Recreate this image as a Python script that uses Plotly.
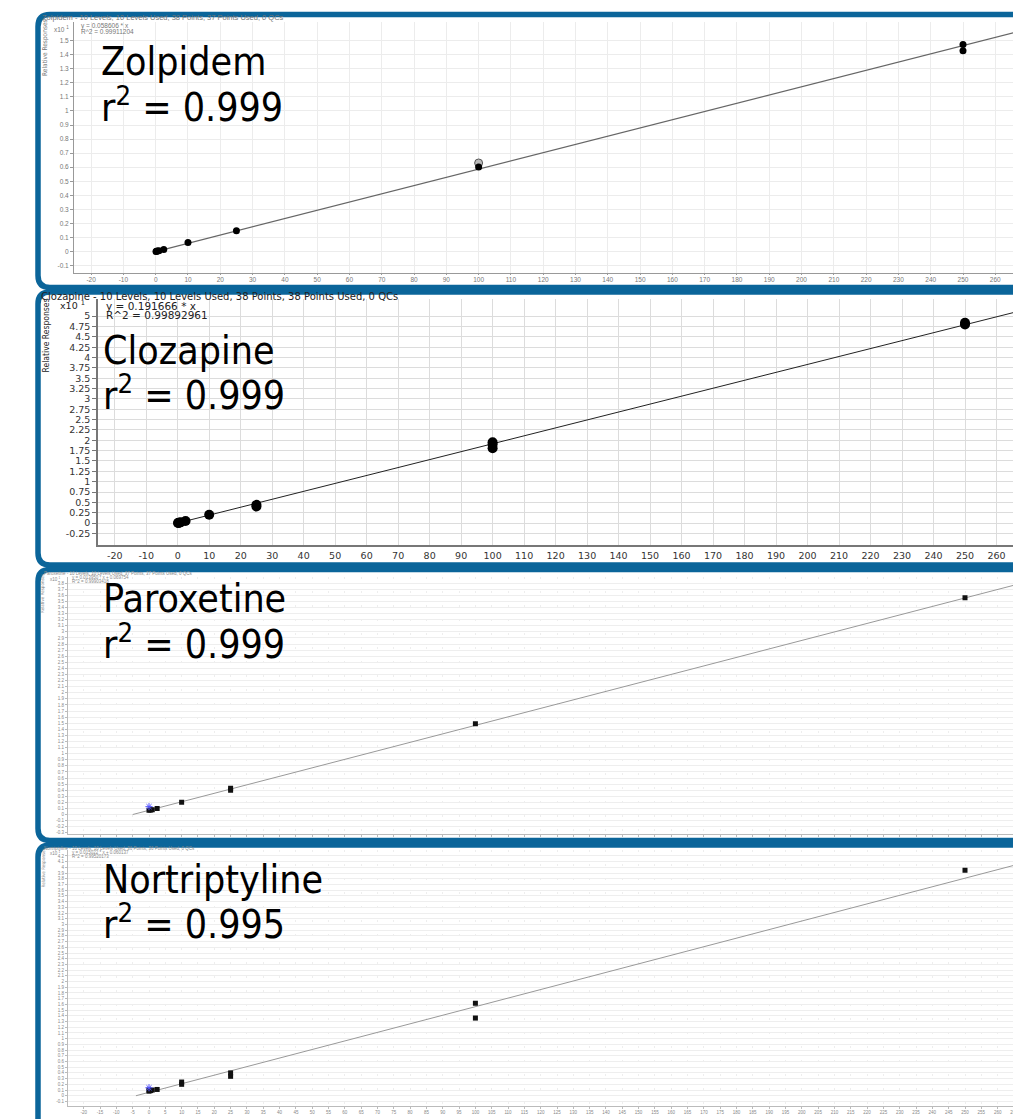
import plotly.graph_objects as go

# ---------------- data ----------------
# Zolpidem (response axis in x10^1 units)
ZOL_X = [0.1, 0.25, 0.5, 1, 2.5, 10, 25, 100, 250, 250]
ZOL_Y = [0.0, 0.002, 0.004, 0.006, 0.015, 0.064, 0.148, 0.602, 1.472, 1.428]
ZOL_EXCL_X = [100]
ZOL_EXCL_Y = [0.630]
ZOL_FIT_X = [0, 270]
ZOL_FIT_Y = [0.0, 1.582]

# Clozapine
CLZ_X = [0.1, 0.25, 0.5, 1, 2.5, 10, 25, 25, 100, 100, 100, 250, 250]
CLZ_Y = [0.002, 0.005, 0.01, 0.02, 0.05, 0.20, 0.40, 0.44, 1.95, 1.90, 1.81, 4.80, 4.84]
CLZ_FIT_X = [0, 270]
CLZ_FIT_Y = [0.0, 5.175]

# Paroxetine
PAR_X = [0, 0.5, 1, 2.5, 10, 25, 25, 100, 250]
PAR_Y = [0.07, 0.075, 0.08, 0.10, 0.20, 0.40, 0.43, 1.49, 3.56]
PAR_STAR_X = [0]
PAR_STAR_Y = [0.13]
PAR_FIT_X = [-5, 270]
PAR_FIT_Y = [0.0, 3.836]

# Nortriptyline
NOR_X = [0, 0, 0.5, 1, 2.5, 10, 10, 25, 25, 100, 100, 250]
NOR_Y = [0.08, 0.10, 0.09, 0.10, 0.11, 0.20, 0.24, 0.34, 0.40, 1.62, 1.36, 3.95]
NOR_STAR_X = [0]
NOR_STAR_Y = [0.14]
NOR_FIT_X = [-4, 270]
NOR_FIT_Y = [0.0, 4.11]

NAMES = ["Zolpidem", "Clozapine", "Paroxetine", "Nortriptyline"]
R2_LABELS = ["0.999", "0.999", "0.999", "0.995"]
HEADERS = [
    "Zolpidem - 10 Levels, 10 Levels Used, 38 Points, 37 Points Used, 0 QCs",
    "Clozapine - 10 Levels, 10 Levels Used, 38 Points, 38 Points Used, 0 QCs",
    "Paroxetine - 10 Levels, 10 Levels Used, 37 Points, 37 Points Used, 0 QCs",
    "Nortriptyline - 10 Levels, 10 Levels Used, 36 Points, 36 Points Used, 0 QCs",
]
EQUATIONS = ["y = 0.058606 * x", "y = 0.191666 * x",
             "y = 0.013950 * x + 0.069754", "y = 0.015022 * x + 0.060137"]
R2_FULL = ["R^2 = 0.99911204", "R^2 = 0.99892961",
           "R^2 = 0.99903418", "R^2 = 0.99520173"]
X_TITLE = "Relative Concentration"
Y_TITLE = "Relative Responses"

X_TICKS_A = list(range(-20, 261, 10))
X_TICKS_B = list(range(-25, 266, 5))
ZOL_YTICKS = [round(-0.1 + 0.1 * i, 1) for i in range(17)]
CLZ_YTICKS = [round(-0.25 + 0.25 * i, 2) for i in range(22)]
PAR_YTICKS = [round(-0.3 + 0.1 * i, 1) for i in range(42)]
NOR_YTICKS = [round(-0.3 + 0.1 * i, 1) for i in range(46)]

# ---------------- layout helpers ----------------
# The page puts the figure 8px in from the top-left corner of the window,
# so positions below are given in window pixels and shifted by OFF.
OFF = 8
WIN_W, WIN_H = 1021, 1119
W, H = WIN_W - OFF, WIN_H - OFF


def fx(p):
    return (p - OFF) / W


def fy(p):
    return 1 - (p - OFF) / H


def rng(pa, va, pb, vb, lo, hi):
    s = (vb - va) / (pb - pa)
    return [va + (lo - pa) * s, va + (hi - pa) * s]


def lab(v):
    return f"{v:g}"


BLUE = "#0b659a"
SMALL = "Liberation Sans, Arial, sans-serif"
WIDE = "DejaVu Sans, Verdana, sans-serif"
COND = "DejaVu Sans Condensed, Liberation Sans, sans-serif"
BIG = "DejaVu Sans Condensed, Liberation Sans, sans-serif"

fig = go.Figure()

# ---- panel geometry (window pixels) ----
P = [
    dict(left=74, top=22, bottom=273, x0=155.7, x250=963, y0=252, yv=1.5, ypv=40.7),
    dict(left=98, top=300, bottom=545.7, x0=177.7, x250=965, y0=524, yv=5, ypv=316.7),
    dict(left=68, top=578, bottom=835, x0=149, x250=965, y0=816, yv=1, ypv=755),
    dict(left=68, top=852, bottom=1108, x0=149, x250=965, y0=1097.7, yv=1, ypv=1040.5),
]

# ---- traces ----
fig.add_trace(go.Scatter(x=ZOL_FIT_X, y=ZOL_FIT_Y, mode="lines", line=dict(color="#666", width=1.2),
                         xaxis="x", yaxis="y", showlegend=False))
fig.add_trace(go.Scatter(x=ZOL_EXCL_X, y=ZOL_EXCL_Y, mode="markers",
                         marker=dict(size=8, color="#bbb", line=dict(color="#555", width=1)),
                         xaxis="x", yaxis="y", showlegend=False))
fig.add_trace(go.Scatter(x=ZOL_X, y=ZOL_Y, mode="markers", marker=dict(size=7, color="black"),
                         xaxis="x", yaxis="y", showlegend=False))

fig.add_trace(go.Scatter(x=CLZ_FIT_X, y=CLZ_FIT_Y, mode="lines", line=dict(color="#222", width=1),
                         xaxis="x2", yaxis="y2", showlegend=False))
fig.add_trace(go.Scatter(x=CLZ_X, y=CLZ_Y, mode="markers", marker=dict(size=10, color="black"),
                         xaxis="x2", yaxis="y2", showlegend=False))

fig.add_trace(go.Scatter(x=PAR_FIT_X, y=PAR_FIT_Y, mode="lines", line=dict(color="#999", width=1),
                         xaxis="x3", yaxis="y3", showlegend=False))
fig.add_trace(go.Scatter(x=PAR_X, y=PAR_Y, mode="markers", marker=dict(size=5, color="#111", symbol="square"),
                         xaxis="x3", yaxis="y3", showlegend=False))
fig.add_trace(go.Scatter(x=PAR_STAR_X, y=PAR_STAR_Y, mode="markers",
                         marker=dict(size=6, color="#5555ff", symbol="asterisk-open", line=dict(color="#5555ff", width=1)),
                         xaxis="x3", yaxis="y3", showlegend=False))

fig.add_trace(go.Scatter(x=NOR_FIT_X, y=NOR_FIT_Y, mode="lines", line=dict(color="#999", width=1),
                         xaxis="x4", yaxis="y4", showlegend=False))
fig.add_trace(go.Scatter(x=NOR_X, y=NOR_Y, mode="markers", marker=dict(size=5, color="#111", symbol="square"),
                         xaxis="x4", yaxis="y4", showlegend=False))
fig.add_trace(go.Scatter(x=NOR_STAR_X, y=NOR_STAR_Y, mode="markers",
                         marker=dict(size=6, color="#5555ff", symbol="asterisk-open", line=dict(color="#5555ff", width=1)),
                         xaxis="x4", yaxis="y4", showlegend=False))

# ---- axes ----
ytick_sets = [ZOL_YTICKS, CLZ_YTICKS, PAR_YTICKS, NOR_YTICKS]
xtick_sets = [X_TICKS_A, X_TICKS_A, X_TICKS_B, X_TICKS_B]
styles = [
    dict(xf=6.5, yf=6.5, fam=SMALL, tc="#777", lc="#999", gc="#ececec", xtl=1, ytl=3, vdash="solid"),
    dict(xf=9.5, yf=9.5, fam=WIDE, tc="#333", lc="#777", gc="#dcdcdc", xtl=1, ytl=4, vdash="solid"),
    dict(xf=4.5, yf=4.5, fam=SMALL, tc="#888", lc="#bbb", gc="#eeeeee", xtl=2, ytl=2, vdash="2px,12px"),
    dict(xf=4.5, yf=4.5, fam=SMALL, tc="#888", lc="#bbb", gc="#eeeeee", xtl=2, ytl=2, vdash="2px,12px"),
]
# where the cropped x-axis titles sit (window px) and their sizes (only the top two panels show one)
xt_pos = [(962, 286, 6.5, "#777", SMALL), (910, 564, 9, "#222", WIDE)]
layout_axes = {}
for i, p in enumerate(P):
    st = styles[i]
    sfx = "" if i == 0 else str(i + 1)
    xr = rng(p["x0"], 0, p["x250"], 250, p["left"], WIN_W)
    yr = rng(p["y0"], 0, p["ypv"], p["yv"], p["bottom"], p["top"])
    layout_axes["xaxis" + sfx] = dict(
        domain=[fx(p["left"]), 1.0], range=xr, anchor="y" + sfx,
        tickvals=xtick_sets[i], ticktext=[lab(v) for v in xtick_sets[i]],
        tickfont=dict(size=st["xf"], color=st["tc"], family=st["fam"]),
        ticks="outside", ticklen=st["xtl"], tickcolor=st["lc"],
        showline=True, linecolor=st["lc"], linewidth=1.5 if i == 1 else 1,
        showgrid=True, gridcolor=st["gc"], griddash=st["vdash"], zeroline=False, fixedrange=True)
    layout_axes["yaxis" + sfx] = dict(
        domain=[fy(p["bottom"]), fy(p["top"])], range=yr, anchor="x" + sfx,
        tickvals=ytick_sets[i], ticktext=[lab(v) for v in ytick_sets[i]],
        tickfont=dict(size=st["yf"], color=st["tc"], family=st["fam"]),
        ticks="outside", ticklen=st["ytl"], tickcolor=st["lc"],
        showline=True, linecolor=st["lc"], linewidth=1.5 if i == 1 else 1,
        showgrid=True, gridcolor=st["gc"], zeroline=False, fixedrange=True)
    # x-axis title, drawn as a text trace so the panel frame partly covers it (as in the picture)
    if i < len(xt_pos):
        cx, cy, cs, cc, cf = xt_pos[i]
        xv = (cx - p["x0"]) / (p["x250"] - p["x0"]) * 250
        yv = rng(p["y0"], 0, p["ypv"], p["yv"], cy, cy)[0]
        fig.add_trace(go.Scatter(x=[xv], y=[yv], mode="text", text=[X_TITLE], textposition="middle right",
                                 textfont=dict(family=cf, size=cs, color=cc),
                                 cliponaxis=False, hoverinfo="skip",
                                 xaxis="x" + sfx, yaxis="y" + sfx, showlegend=False))

# ---- panel borders ----
panels_px = [(14.5, 288), (292.5, 566), (570.5, 842), (846.5, 1135)]
shapes = []
r = 12
xl = 38
for (t, b) in panels_px:
    path = (f"M {fx(1060)},{fy(t)} L {fx(xl + r)},{fy(t)} Q {fx(xl)},{fy(t)} {fx(xl)},{fy(t + r)} "
            f"L {fx(xl)},{fy(b - r)} Q {fx(xl)},{fy(b)} {fx(xl + r)},{fy(b)} L {fx(1060)},{fy(b)}")
    shapes.append(dict(type="path", path=path, xref="paper", yref="paper",
                       line=dict(color=BLUE, width=5.5), layer="above"))

# ---- annotations ----
ann = []
big_pos = [(99, 62, 105), (101, 351, 394), (101, 600, 643), (101, 881, 924)]
for i, (x, y1, y2) in enumerate(big_pos):
    ann.append(dict(text=NAMES[i], x=fx(x), y=fy(y1), xanchor="left", yanchor="middle",
                    font=dict(family=BIG, size=39, color="black")))
    ann.append(dict(text="r<sup>2</sup> = " + R2_LABELS[i], x=fx(x), y=fy(y2), xanchor="left", yanchor="middle",
                    font=dict(family=BIG, size=39, color="black")))

# header texts
hdr = [
    dict(f=SMALL, hx=40, hy=18, hs=7.5, hc="#777", ex=79, ey=26, ey2=32, es=6.5, rx=45, ry=48, rs=6.5, tx=52, ty=29, ts=6.5),
    dict(f=WIDE, hx=39, hy=297, hs=10, hc="#222", ex=104, ey=307, ey2=316, es=10.5, rx=46, ry=336, rs=8.5, tx=58, ty=306, ts=9.5),
    dict(f=SMALL, hx=42, hy=575, hs=4.5, hc="#888", ex=70, ey=579, ey2=583, es=4.5, rx=43, ry=595, rs=4.5, tx=48, ty=580, ts=4.5),
    dict(f=SMALL, hx=42, hy=850, hs=4.5, hc="#888", ex=70, ey=854, ey2=858, es=4.5, rx=43, ry=870, rs=4.5, tx=48, ty=855, ts=4.5),
]
for i, h in enumerate(hdr):
    ann.append(dict(text=HEADERS[i], x=fx(h["hx"]), y=fy(h["hy"]), xanchor="left", yanchor="middle",
                    font=dict(family=h["f"], size=h["hs"], color=h["hc"])))
    ann.append(dict(text=EQUATIONS[i], x=fx(h["ex"]), y=fy(h["ey"]), xanchor="left", yanchor="middle",
                    font=dict(family=h["f"], size=h["es"], color=h["hc"])))
    ann.append(dict(text=R2_FULL[i], x=fx(h["ex"]), y=fy(h["ey2"]), xanchor="left", yanchor="middle",
                    font=dict(family=h["f"], size=h["es"], color=h["hc"])))
    ann.append(dict(text=Y_TITLE, x=fx(h["rx"]), y=fy(h["ry"]), xanchor="center", yanchor="middle",
                    textangle=-90, font=dict(family=COND, size=h["rs"], color=h["hc"])))
    ann.append(dict(text="x10 <sup>1</sup>", x=fx(h["tx"]), y=fy(h["ty"]), xanchor="left", yanchor="middle",
                    font=dict(family=h["f"], size=h["ts"], color=h["hc"])))

for a in ann:
    a.update(xref="paper", yref="paper", showarrow=False)

fig.update_layout(
    width=W, height=H, margin=dict(l=0, r=0, t=0, b=0),
    paper_bgcolor="white", plot_bgcolor="white",
    showlegend=False, shapes=shapes, annotations=ann,
    **layout_axes,
)

fig.write_html("out.html")
